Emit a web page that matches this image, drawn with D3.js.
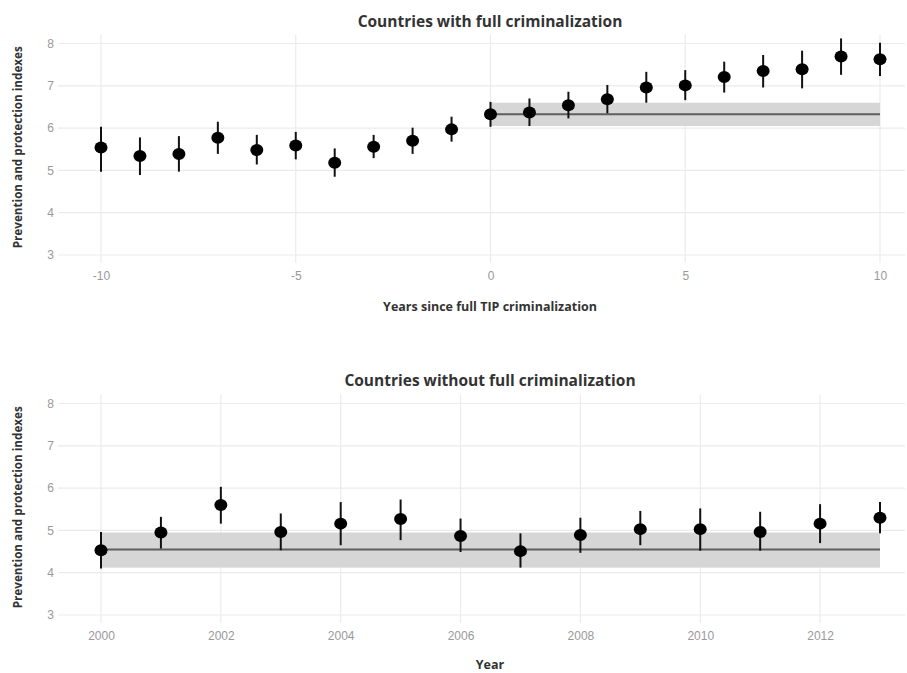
<!DOCTYPE html>
<html>
<head>
<meta charset="utf-8">
<script src="https://cdn.jsdelivr.net/npm/d3@7"></script>
<style>
  html, body { margin: 0; padding: 0; background: #fff; }
  svg { display: block; font-family: "Open Sans", "DejaVu Sans", sans-serif; }
</style>
</head>
<body>
<svg id="chart" width="907" height="673"></svg>
<script>
// Panel 1: event time relative to full TIP criminalization
const relYears   = [-10, -9, -8, -7, -6, -5, -4, -3, -2, -1, 0, 1, 2, 3, 4, 5, 6, 7, 8, 9, 10];
const relMean    = [5.54, 5.34, 5.39, 5.77, 5.48, 5.59, 5.18, 5.56, 5.70, 5.97, 6.33, 6.37, 6.54, 6.68, 6.96, 7.01, 7.21, 7.35, 7.39, 7.69, 7.63];
const relLow     = [4.97, 4.89, 4.97, 5.39, 5.14, 5.26, 4.85, 5.29, 5.39, 5.68, 6.03, 6.05, 6.23, 6.35, 6.60, 6.66, 6.84, 6.96, 6.94, 7.26, 7.23];
const relHigh    = [6.03, 5.78, 5.81, 6.15, 5.84, 5.91, 5.52, 5.84, 6.01, 6.27, 6.62, 6.70, 6.86, 7.02, 7.33, 7.37, 7.57, 7.73, 7.83, 8.12, 8.02];
const relBaseline = { start: 0, end: 10, mean: 6.33, low: 6.05, high: 6.60 };
const relTicks   = [-10, -5, 0, 5, 10];

// Panel 2: calendar years for countries that never fully criminalized
const calYears   = [2000, 2001, 2002, 2003, 2004, 2005, 2006, 2007, 2008, 2009, 2010, 2011, 2012, 2013];
const calMean    = [4.53, 4.95, 5.60, 4.96, 5.16, 5.27, 4.87, 4.51, 4.89, 5.03, 5.03, 4.96, 5.16, 5.30];
const calLow     = [4.10, 4.57, 5.16, 4.53, 4.65, 4.77, 4.49, 4.12, 4.47, 4.65, 4.52, 4.52, 4.70, 4.93];
const calHigh    = [4.96, 5.32, 6.03, 5.40, 5.67, 5.73, 5.28, 4.93, 5.30, 5.46, 5.52, 5.44, 5.62, 5.67];
const calBaseline = { start: 2000, end: 2013, mean: 4.55, low: 4.12, high: 4.95 };
const calTicks   = [2000, 2002, 2004, 2006, 2008, 2010, 2012];

const yTicks = [3, 4, 5, 6, 7, 8];
const yTitle = "Prevention and protection indexes";

const svg = d3.select("#chart");

function drawPanel(cfg) {
  const g = svg.append("g");
  const x = d3.scaleLinear().domain(cfg.xDomain).range([101, 880]);
  const y = d3.scaleLinear().domain([3, 8]).range([cfg.yBottom, cfg.yBottom - 211.5]);
  const top = y(8) - 9, bottom = y(3) + 8;
  const left = 58, right = 905;

  // grid
  g.append("g").selectAll("line.h").data(yTicks).join("line")
    .attr("x1", left).attr("x2", right)
    .attr("y1", d => y(d)).attr("y2", d => y(d))
    .attr("stroke", "#ebebeb").attr("stroke-width", 1.2);
  g.append("g").selectAll("line.v").data(cfg.xTicks).join("line")
    .attr("x1", d => x(d)).attr("x2", d => x(d))
    .attr("y1", top).attr("y2", bottom)
    .attr("stroke", "#ebebeb").attr("stroke-width", 1.2);

  // axes (labels only)
  const yAxis = g.append("g").attr("transform", `translate(${left - 2},0)`)
    .call(d3.axisLeft(y).tickValues(yTicks).tickSize(0).tickPadding(2).tickFormat(d => String(d)));
  yAxis.select(".domain").remove();
  yAxis.selectAll("text").attr("fill", "#999").style("font-size", "12px");

  const xAxis = g.append("g").attr("transform", `translate(0,${bottom + 6})`)
    .call(d3.axisBottom(x).tickValues(cfg.xTicks).tickSize(0).tickPadding(2).tickFormat(d => String(d)));
  xAxis.select(".domain").remove();
  xAxis.selectAll("text").attr("fill", "#999").style("font-size", "12px");

  // baseline confidence band and mean line
  const b = cfg.baseline;
  g.append("rect")
    .attr("x", x(b.start)).attr("width", x(b.end) - x(b.start))
    .attr("y", y(b.high)).attr("height", y(b.low) - y(b.high))
    .attr("fill", "#d6d6d6");
  g.append("line")
    .attr("x1", x(b.start)).attr("x2", x(b.end))
    .attr("y1", y(b.mean)).attr("y2", y(b.mean))
    .attr("stroke", "#5e5e5e").attr("stroke-width", 2);

  // error bars and points
  const pts = cfg.xs.map((v, i) => ({ x: v, m: cfg.mean[i], lo: cfg.low[i], hi: cfg.high[i] }));
  g.append("g").selectAll("line").data(pts).join("line")
    .attr("x1", d => x(d.x)).attr("x2", d => x(d.x))
    .attr("y1", d => y(d.lo)).attr("y2", d => y(d.hi))
    .attr("stroke", "#111").attr("stroke-width", 2);
  g.append("g").selectAll("ellipse").data(pts).join("ellipse")
    .attr("cx", d => x(d.x)).attr("cy", d => y(d.m))
    .attr("rx", 6.5).attr("ry", 6)
    .attr("fill", "#000");

  // titles
  g.append("text").attr("x", 490).attr("y", cfg.titleY)
    .attr("text-anchor", "middle").attr("font-weight", "bold")
    .attr("fill", "#333").style("font-size", "15.5px").text(cfg.title);
  g.append("text").attr("x", 490).attr("y", cfg.xTitleY)
    .attr("text-anchor", "middle").attr("font-weight", "bold")
    .attr("fill", "#333").style("font-size", "12.5px").text(cfg.xTitle);
  g.append("text")
    .attr("transform", `translate(22,${(y(3) + y(8)) / 2 - 2}) rotate(-90)`)
    .attr("text-anchor", "middle").attr("font-weight", "bold")
    .attr("fill", "#333").style("font-size", "11.7px").text(yTitle);
}

drawPanel({
  xDomain: [-10, 10], xTicks: relTicks, yBottom: 255,
  xs: relYears, mean: relMean, low: relLow, high: relHigh, baseline: relBaseline,
  title: "Countries with full criminalization", titleY: 27,
  xTitle: "Years since full TIP criminalization", xTitleY: 311
});

drawPanel({
  xDomain: [2000, 2013], xTicks: calTicks, yBottom: 615,
  xs: calYears, mean: calMean, low: calLow, high: calHigh, baseline: calBaseline,
  title: "Countries without full criminalization", titleY: 386,
  xTitle: "Year", xTitleY: 669
});
</script>
</body>
</html>
